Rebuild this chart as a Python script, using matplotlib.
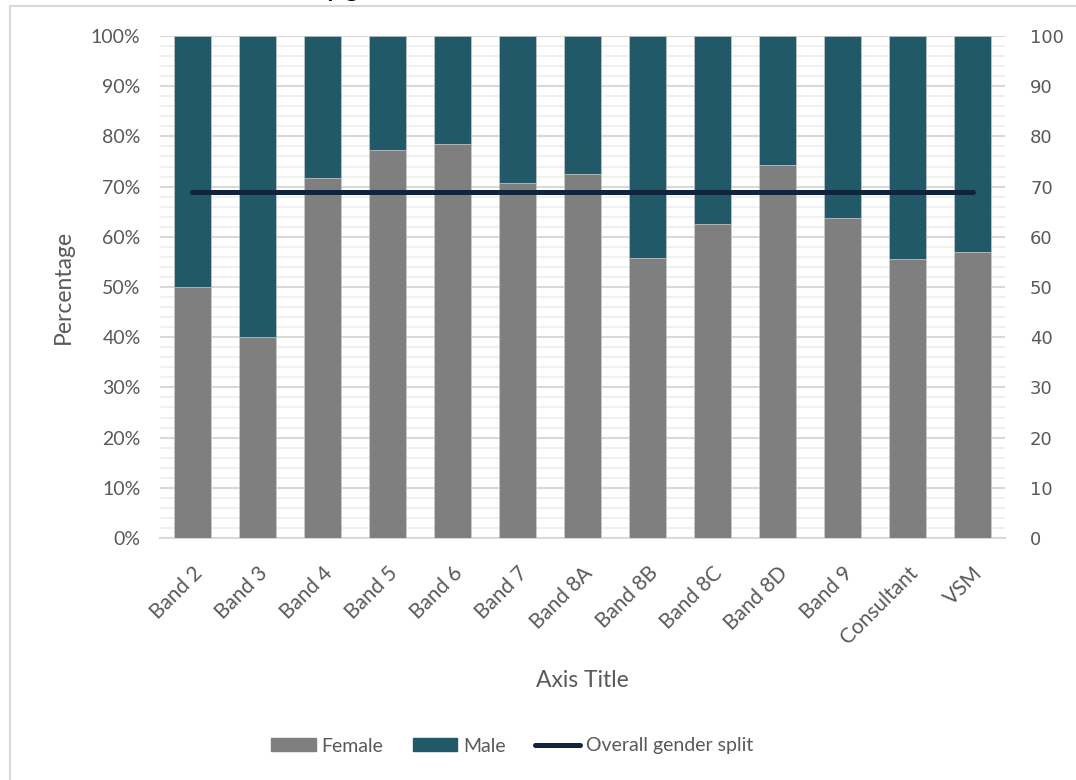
import numpy as np
import matplotlib
matplotlib.use("Agg")
import matplotlib.pyplot as plt
from matplotlib.ticker import PercentFormatter, MultipleLocator
from matplotlib.lines import Line2D

bands = ["Band 2", "Band 3", "Band 4", "Band 5", "Band 6", "Band 7", "Band 8A",
         "Band 8B", "Band 8C", "Band 8D", "Band 9", "Consultant", "VSM"]
female = [50.0, 40.0, 71.8, 77.2, 78.4, 70.8, 72.6, 55.7, 62.5, 74.3, 63.7, 55.6, 57.0]
male = [50.0, 60.0, 28.2, 22.8, 21.6, 29.2, 27.4, 44.3, 37.5, 25.7, 36.3, 44.4, 43.0]
overall = [68.9, 68.9, 68.9, 68.9, 68.9, 68.9, 68.9, 68.9, 68.9, 68.9, 68.9, 68.9, 68.9]

FEMALE_COL = "#7f7f7f"
MALE_COL = "#215968"
LINE_COL = "#10243e"
TEXT_COL = "#595959"

plt.rcParams["font.family"] = ["Lato", "DejaVu Sans"]

fig = plt.figure(figsize=(10.76, 7.8), dpi=100)
W, H = 1076, 780
ax = fig.add_axes([160 / W, (H - 538) / H, (1005 - 160) / W, (538 - 36) / H])

x = np.arange(len(bands))
ax.bar(x, female, width=0.57, color=FEMALE_COL, edgecolor="#d0d0d0", linewidth=0.4, zorder=3)
ax.bar(x, male, width=0.57, bottom=female, color=MALE_COL, edgecolor="#d0d0d0", linewidth=0.4, zorder=3)

ax.set_xlim(-0.5, len(bands) - 0.5)
ax.set_ylim(0, 100)
ax.yaxis.set_major_locator(MultipleLocator(10))
ax.yaxis.set_minor_locator(MultipleLocator(2))
ax.yaxis.set_major_formatter(PercentFormatter(xmax=100, decimals=0))
ax.grid(axis="y", which="major", color="#d9d9d9", linewidth=1.5, zorder=0)
ax.grid(axis="y", which="minor", color="#f0f0f0", linewidth=1.5, zorder=0)
ax.set_axisbelow(True)

for s in ["top", "right", "left"]:
    ax.spines[s].set_visible(False)
ax.spines["bottom"].set_color("#d9d9d9")
ax.spines["bottom"].set_linewidth(1.5)

ax.set_xticks(x)
ax.set_xticklabels(bands, rotation=45, ha="right", rotation_mode="anchor")
ax.tick_params(axis="x", length=0, pad=18, labelsize=15, labelcolor=TEXT_COL)
ax.tick_params(axis="y", which="both", length=0, pad=14, labelsize=14, labelcolor=TEXT_COL)

ax.set_ylabel("Percentage", fontsize=16.5, color=TEXT_COL, labelpad=12)
ax.set_xlabel("Axis Title", fontsize=16.5, color=TEXT_COL, labelpad=16)

# overall split sits on the secondary 0-100 axis
ax2 = ax.twinx()
ax2.plot(x, overall, color=LINE_COL, linewidth=3.6, solid_capstyle="round", zorder=5)
ax2.set_ylim(0, 100)
ax2.yaxis.set_major_locator(MultipleLocator(10))
ax2.tick_params(axis="y", length=0, pad=18, labelsize=13, labelcolor=TEXT_COL)
for lbl in ax2.get_yticklabels():
    lbl.set_family("DejaVu Sans")
for s in ax2.spines.values():
    s.set_visible(False)

handles = [
    plt.Rectangle((0, 0), 1, 1, color=FEMALE_COL),
    plt.Rectangle((0, 0), 1, 1, color=MALE_COL),
    Line2D([0], [0], color=LINE_COL, linewidth=3.6, solid_capstyle="round"),
]
fig.legend(handles, ["Female", "Male", "Overall gender split"], loc="center",
           bbox_to_anchor=(512 / W, 1 - 746 / H), ncol=3, frameon=False,
           fontsize=14, labelcolor=TEXT_COL, handlelength=2.3, handleheight=0.6,
           handletextpad=0.3, columnspacing=1.5)

# chart frame and title above it
fig.add_artist(Line2D([10 / W, 1], [1 - 6 / H, 1 - 6 / H], color="#d9d9d9", linewidth=1.5))
fig.add_artist(Line2D([10 / W, 10 / W], [0, 1 - 6 / H], color="#d9d9d9", linewidth=1.5))
fig.text(252 / W, 1 + 3 / H, "Staff by gender", fontsize=18, fontweight="bold",
         color="black", ha="left", va="baseline")

fig.savefig("out.png", dpi=100, facecolor="white")
